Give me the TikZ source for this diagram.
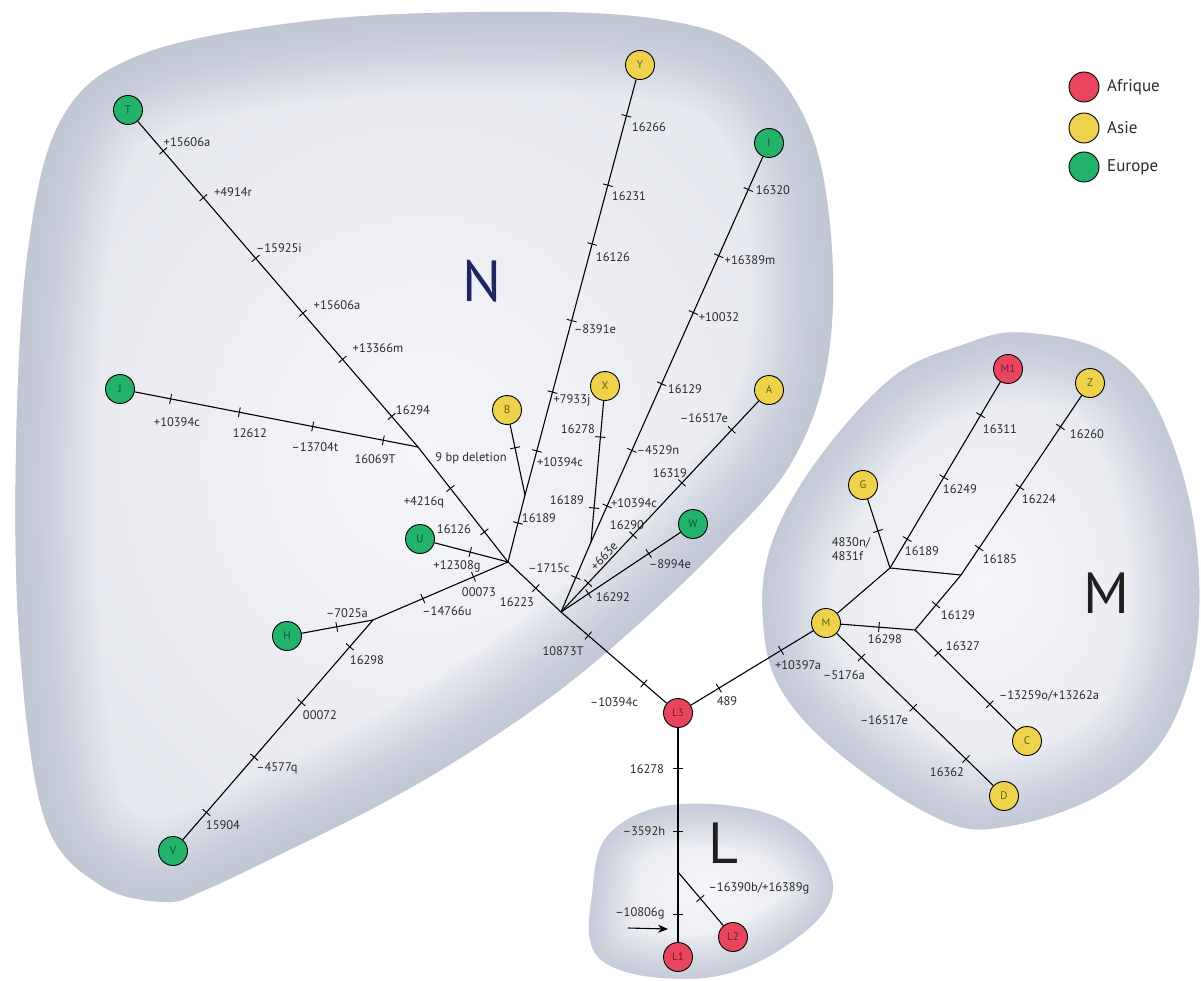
\documentclass[tikz,border=0pt]{standalone}
\usepackage{fontspec}
\setmainfont{PT Sans}
\usetikzlibrary{calc,arrows.meta}
\definecolor{eur}{HTML}{22B26A}
\definecolor{asi}{HTML}{EFD24B}
\definecolor{afr}{HTML}{E8465E}
\definecolor{eurt}{HTML}{0E5330}
\definecolor{asit}{HTML}{6B5A12}
\definecolor{afrt}{HTML}{7E1A2A}
\definecolor{blobin}{HTML}{F5F6F9}
\definecolor{blobmid}{HTML}{E6E8EF}
\definecolor{blobedge}{HTML}{B0B7CB}
\definecolor{labc}{HTML}{2B2B2B}
\definecolor{navy}{HTML}{1F2463}
\definecolor{bigc}{HTML}{231F20}
\tikzset{
  hap/.style={circle,draw=black,line width=0.9pt,minimum size=29pt,inner sep=0pt,font=\fontsize{11}{12}\selectfont},
  heur/.style={hap,fill=eur,text=eurt},
  hasi/.style={hap,fill=asi,text=asit},
  hafr/.style={hap,fill=afr,text=afrt},
  edge/.style={line width=1.1pt,black},
  tickst/.style={line width=0.9pt,black},
  lab/.style={inner sep=0pt,text=labc,font=\fontsize{12.5}{14}\selectfont},
  big/.style={inner sep=0pt,font=\fontsize{58}{60}\selectfont},
  leg/.style={inner sep=0pt,anchor=west,text=labc,font=\fontsize{17}{19}\selectfont},
  legc/.style={circle,draw=black,line width=0.9pt,minimum size=30pt,inner sep=0pt},
  glow/.style={draw=blobedge,opacity=0.045},
  npath/.style={insert path={plot[smooth cycle,tension=0.6] coordinates {
 (165,902) (100,885) (45,820) (20,650) (16,450) (28,250) (62,118) (140,55) (300,22) (480,12) (650,18) (750,50) (810,130) (832,250) (826,370) (790,465) (723,543) (642,621) (560,690) (470,752) (383,803) (283,853) (205,890)}}},
  mpath/.style={insert path={plot[smooth cycle,tension=0.65] coordinates {
 (1030,333) (1115,358) (1168,432) (1198,560) (1186,690) (1126,778) (1010,826) (925,812) (800,716) (763,621) (785,512) (880,388) (965,344)}}},
  lpath/.style={insert path={plot[smooth cycle,tension=0.65] coordinates {
 (683,804) (785,821) (833,886) (790,943) (703,978) (601,960) (593,886) (613,830)}}}
}
\newcommand\tk[3]{%
  \coordinate (tq) at ($(#1)!(#3)!(#2)$);
  \draw[tickst] ($(tq)!5pt!90:(#2)$) -- ($(tq)!5pt!-90:(#2)$);}
\newcommand\blob[2]{%
  \shade[inner color=blobin,outer color=blobmid,#1];
  \begin{scope}
    \clip[#1];
    \foreach \w in {#2} {\draw[glow,line width=\w pt,#1];}
  \end{scope}}
\begin{document}
\begin{tikzpicture}[x=1pt,y=-1pt]
\useasboundingbox (0,0) rectangle (1201,981);
% background blobs
\blob{npath}{8,16,...,160}
\blob{mpath}{8,16,...,136}
\blob{lpath}{6,12,...,84}
\node[big,text=navy] (bigN) at (482,281) {N};
\node[big,text=bigc] (bigM) at (1106,593) {M};
\node[big,text=bigc] (bigL) at (723,843) {L};
% haplogroup nodes
\node[heur] (T) at (128,110) {T};
\node[heur] (J) at (120,389) {J};
\node[heur] (U) at (420,539) {U};
\node[heur] (H) at (287,636) {H};
\node[heur] (V) at (173,851) {V};
\node[heur] (I) at (769,143) {I};
\node[heur] (W) at (693,524) {W};
\node[hasi] (Y) at (640,65) {Y};
\node[hasi] (B) at (507,410) {B};
\node[hasi] (X) at (605,386) {X};
\node[hasi] (A) at (769,390) {A};
\node[hasi] (G) at (863,485) {G};
\node[hasi] (Z) at (1090,383) {Z};
\node[hasi] (M) at (826,623) {M};
\node[hasi] (C) at (1027,741) {C};
\node[hasi] (D) at (1004,796) {D};
\node[hafr] (L3) at (678,713) {L3};
\node[hafr] (L1) at (678,957) {L1};
\node[hafr] (L2) at (733,937) {L2};
\node[hafr] (M1) at (1008,369) {M1};
% junctions
\coordinate (J1) at (418,447);
\coordinate (JA) at (508,562);
\coordinate (JB) at (525,495);
\coordinate (JC) at (561,612);
\coordinate (JX) at (591,542);
\coordinate (JH) at (373,620);
\coordinate (JG) at (890,568);
\coordinate (JZ) at (961,575);
\coordinate (JM) at (915,630);
\coordinate (JL) at (678,872);
% edges
\draw[edge] (T) -- (J1);
\draw[edge] (J) -- (J1);
\draw[edge] (J1) -- (JA);
\draw[edge] (U) -- (JA);
\draw[edge] (B) -- (JB);
\draw[edge] (Y) -- (JB);
\draw[edge] (JB) -- (JA);
\draw[edge] (JA) -- (JH);
\draw[edge] (H) -- (JH);
\draw[edge] (JH) -- (V);
\draw[edge] (JA) -- (JC);
\draw[edge] (X) -- (JX);
\draw[edge] (I) -- (JX);
\draw[edge] (JX) -- (JC);
\draw[edge] (A) -- (JC);
\draw[edge] (W) -- (JC);
\draw[edge] (JC) -- (L3);
\draw[edge] (L3) -- (M);
\draw[edge] (L3) -- (JL);
\draw[edge] (JL) -- (L1);
\draw[edge] (JL) -- (L2);
\draw[edge] (M) -- (JG);
\draw[edge] (G) -- (JG);
\draw[edge] (JG) -- (M1);
\draw[edge] (JG) -- (JZ);
\draw[edge] (Z) -- (JZ);
\draw[edge] (JZ) -- (JM);
\draw[edge] (M) -- (JM);
\draw[edge] (JM) -- (C);
\draw[edge] (M) -- (D);
% ticks
\tk{T}{J1}{162,152} \tk{T}{J1}{203,198} \tk{T}{J1}{255,259} \tk{T}{J1}{302,314} \tk{T}{J1}{343,359} \tk{T}{J1}{391,417}
\tk{J}{J1}{170,402} \tk{J}{J1}{239,414} \tk{J}{J1}{312,430} \tk{J}{J1}{383,442}
\tk{J1}{JA}{451,488} \tk{J1}{JA}{483,533}
\tk{U}{JA}{470,553}
\tk{B}{JB}{514,448}
\tk{Y}{JB}{627,116} \tk{Y}{JB}{607,185} \tk{Y}{JB}{592,244} \tk{Y}{JB}{573,321} \tk{Y}{JB}{552,392} \tk{Y}{JB}{537,451}
\tk{JB}{JA}{518,523}
\tk{JA}{JH}{474,578} \tk{JA}{JH}{423,599}
\tk{H}{JH}{337,628}
\tk{JH}{V}{350,647} \tk{JH}{V}{302,703} \tk{JH}{V}{254,757} \tk{JH}{V}{207,813}
\tk{JA}{JC}{535,589}
\tk{X}{JX}{600,437} \tk{X}{JX}{594,508}
\tk{I}{JX}{747,189} \tk{I}{JX}{717,255} \tk{I}{JX}{692,312} \tk{I}{JX}{662,384} \tk{I}{JX}{631,450} \tk{I}{JX}{607,506}
\tk{JX}{JC}{577,578}
\tk{A}{JC}{733,431} \tk{A}{JC}{682,483} \tk{A}{JC}{633,535} \tk{A}{JC}{588,583}
\tk{W}{JC}{649,554} \tk{W}{JC}{588,593}
\tk{JC}{L3}{587,637} \tk{JC}{L3}{640,688}
\tk{L3}{M}{720,690} \tk{L3}{M}{782,652}
\tk{L3}{JL}{678,768} \tk{L3}{JL}{678,831} \tk{JL}{L1}{678,914}
\tk{JL}{L2}{702,897}
\tk{G}{JG}{878,531}
\tk{JG}{M1}{907,539} \tk{JG}{M1}{945,478} \tk{JG}{M1}{982,416}
\tk{Z}{JZ}{1062,428} \tk{Z}{JZ}{1021,488} \tk{Z}{JZ}{979,548}
\tk{JZ}{JM}{935,604}
\tk{M}{JM}{879,627}
\tk{JM}{C}{938,653} \tk{JM}{C}{989,705}
\tk{M}{D}{862,657} \tk{M}{D}{913,708} \tk{M}{D}{966,759}
% arrow
\coordinate (ar1) at (628,928);
\coordinate (ar2) at (668,929);
\draw[line width=1.1pt,-{Stealth[length=10pt,width=8pt]}] (ar1) -- (ar2);
% labels
\node[lab] at (187,142) {+15606a};
\node[lab] at (233,192) {+4914r};
\node[lab] at (279,248) {–15925i};
\node[lab] at (337,305) {+15606a};
\node[lab] at (378,348) {+13366m};
\node[lab] at (413,410) {16294};
\node[lab] at (471,458) {9 bp deletion};
\node[lab] at (424,502) {+4216q};
\node[lab] at (454,529) {16126};
\node[lab] at (457,566) {+12308g};
\node[lab] at (479,592) {00073};
\node[lab] at (517,602) {16223};
\node[lab] at (447,611) {–14766u};
\node[lab] at (347,613) {–7025a};
\node[lab] at (367,660) {16298};
\node[lab] at (320,715) {00072};
\node[lab] at (277,768) {–4577q};
\node[lab] at (223,825) {15904};
\node[lab] at (177,422) {+10394c};
\node[lab] at (250,433) {12612};
\node[lab] at (315,447) {–13704t};
\node[lab] at (375,459) {16069T};
\node[lab] at (649,127) {16266};
\node[lab] at (629,196) {16231};
\node[lab] at (613,257) {16126};
\node[lab] at (595,329) {–8391e};
\node[lab] at (572,400) {+7933j};
\node[lab] at (560,462) {+10394c};
\node[lab] at (539,518) {16189};
\node[lab] at (578,429) {16278};
\node[lab] at (567,500) {16189};
\node[lab] at (773,190) {16320};
\node[lab] at (750,260) {+16389m};
\node[lab] at (719,317) {+10032};
\node[lab] at (685,389) {16129};
\node[lab] at (658,450) {–4529n};
\node[lab] at (634,503) {+10394c};
\node[lab] at (549,568) {–1715c};
\node[lab] at (704,418) {–16517e};
\node[lab] at (670,473) {16319};
\node[lab] at (627,525) {16290};
\node[lab,rotate=47] at (604,556) {+663e};
\node[lab] at (670,564) {–8994e};
\node[lab] at (613,597) {16292};
\node[lab] at (563,651) {10873T};
\node[lab] at (614,702) {–10394c};
\node[lab] at (727,701) {489};
\node[lab] at (798,665) {+10397a};
\node[lab] at (647,769) {16278};
\node[lab] at (644,831) {–3592h};
\node[lab] at (640,913) {–10806g};
\node[lab] at (759,888) {–16390b/+16389g};
\node[lab] at (1000,429) {16311};
\node[lab] at (960,489) {16249};
\node[lab] at (922,551) {16189};
\node[lab,align=left] at (851,549) {4830n/\\4831f};
\node[lab] at (1087,434) {16260};
\node[lab] at (1039,499) {16224};
\node[lab] at (1000,559) {16185};
\node[lab] at (958,615) {16129};
\node[lab] at (885,639) {16298};
\node[lab] at (963,646) {16327};
\node[lab] at (844,675) {–5176a};
\node[lab] at (884,720) {–16517e};
\node[lab] at (1049,696) {–13259o/+13262a};
\node[lab] at (947,772) {16362};
% legend
\node[legc,fill=afr] (la) at (1084,87) {};
\node[legc,fill=asi] (ls) at (1084,128) {};
\node[legc,fill=eur] (le) at (1084,167) {};
\node[leg] at (1107,87) {Afrique};
\node[leg] at (1107,128) {Asie};
\node[leg] at (1107,167) {Europe};
\end{tikzpicture}
\end{document}
